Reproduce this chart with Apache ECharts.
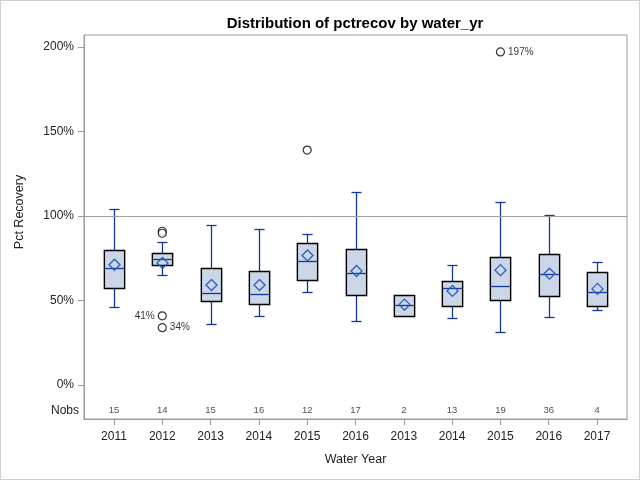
<!DOCTYPE html>
<html>
<head>
<meta charset="utf-8">
<script src="https://cdn.jsdelivr.net/npm/echarts@6/dist/echarts.min.js"></script>
<style>
html,body{margin:0;padding:0;background:#fff;}
#c{width:640px;height:480px;box-sizing:border-box;border:1px solid #d0d0d0;}
</style>
</head>
<body>
<div id="c"></div>
<script>
const categories = ['2011','2012','2013','2014','2015','2016','2013','2014','2015','2016','2017'];
const whiskerLow  = [46, 65, 36, 40.6, 55, 38, 41, 39.8, 31.6, 40.4, 44.5];
const q1          = [57.5, 71, 49.6, 48, 62.2, 53.4, 41, 46.9, 50.4, 52.8, 46.9];
const median      = [69.2, 74.5, 54.3, 53.9, 73.3, 66.3, 47.6, 57.5, 58.6, 65.7, 55.1];
const q3          = [79.8, 78.2, 69.2, 67.6, 83.9, 80.4, 53.4, 61.6, 75.5, 77.5, 66.9];
const whiskerHigh = [104, 84.5, 94.5, 92.5, 89.2, 114, 53.4, 71, 108, 100.4, 72.8];
const mean        = [71.2, 72.2, 59.2, 59.2, 76.7, 67.5, 47.6, 55.7, 68, 65.9, 56.9];
const nobs        = [15, 14, 15, 16, 12, 17, 2, 13, 19, 36, 4];
const outlierIdx   = [1, 1, 1, 1, 4, 8];
const outlierVal   = [91, 89.8, 41, 34, 139, 197];
const outlierLabel = ['', '', '41%', '34%', '', '197%'];
const outlierPos   = ['right', 'right', 'left', 'right', 'right', 'right'];
const yTicks = [0, 50, 100, 150, 200];
const nobsRowY = -15;
const refLine = 100;

const boxData = categories.map((c, i) => [i, whiskerLow[i], q1[i], median[i], q3[i], whiskerHigh[i], mean[i]]);
const outlierData = outlierIdx.map((ix, k) => ({
  value: [ix, outlierVal[k]],
  label: { show: outlierLabel[k] !== '', formatter: outlierLabel[k], position: outlierPos[k] }
}));
const nobsData = nobs.map((n, i) => ({ value: [i, nobsRowY], label: { formatter: String(n) } }));

const BLUE = '#12399a';
const DIAMOND = '#2a5cc0';

function renderBox(params, api) {
  const i = api.value(0);
  const x = Math.round(api.coord([i, 0])[0]) + 0.5;
  const hw = api.size([0.42, 0])[0] / 2;
  const cw = api.size([0.21, 0])[0] / 2;
  const y = v => Math.round(api.coord([i, api.value(v)])[1]) + 0.5;
  const yLo = y(1), yQ1 = y(2), yMed = y(3), yQ3 = y(4), yHi = y(5), yMean = api.coord([i, api.value(6)])[1];
  const lineStyle = { stroke: BLUE, lineWidth: 1.3 };
  const ch = [];
  if (yHi < yQ3) {
    ch.push({ type: 'line', shape: { x1: x, y1: yQ3, x2: x, y2: yHi }, style: lineStyle });
    ch.push({ type: 'line', shape: { x1: x - cw, y1: yHi, x2: x + cw, y2: yHi }, style: lineStyle });
  }
  if (yLo > yQ1) {
    ch.push({ type: 'line', shape: { x1: x, y1: yQ1, x2: x, y2: yLo }, style: lineStyle });
    ch.push({ type: 'line', shape: { x1: x - cw, y1: yLo, x2: x + cw, y2: yLo }, style: lineStyle });
  }
  ch.push({ type: 'rect', shape: { x: x - hw, y: yQ3, width: 2 * hw, height: yQ1 - yQ3 },
            style: { fill: '#cbd6e6', stroke: '#000', lineWidth: 1.4 } });
  ch.push({ type: 'line', shape: { x1: x - hw + 0.7, y1: yMed, x2: x + hw - 0.7, y2: yMed }, style: lineStyle });
  const d = 5.5;
  ch.push({ type: 'polygon', shape: { points: [[x, yMean - d], [x + d, yMean], [x, yMean + d], [x - d, yMean]] },
            style: { fill: 'none', stroke: DIAMOND, lineWidth: 1.3 } });
  return { type: 'group', children: ch };
}

const chart = echarts.init(document.getElementById('c'), null, { renderer: 'canvas' });
const FONT = '"Liberation Sans", Arial, sans-serif';
chart.setOption({
  animation: false,
  textStyle: { fontFamily: FONT },
  title: {
    text: 'Distribution of pctrecov by water_yr',
    left: 349, top: 10, textAlign: 'center',
    textStyle: { fontFamily: FONT, fontSize: 15, fontWeight: 'bold', color: '#000' }
  },
  grid: { left: 83, right: 12, top: 34, bottom: 60, show: true, borderColor: '#9a9a9a', borderWidth: 1 },
  xAxis: {
    type: 'value', min: -0.62, max: 10.62,
    splitLine: { show: false },
    axisLine: { show: true, onZero: false, lineStyle: { color: '#9a9a9a' } },
    axisTick: { show: true, inside: false, length: 6, lineStyle: { color: '#9a9a9a' }, customValues: categories.map((c, i) => i) },
    axisLabel: { customValues: categories.map((c, i) => i), formatter: v => categories[Math.round(v)] || '',
                 fontSize: 12, color: '#222', margin: 12, fontFamily: FONT },
    name: 'Water Year', nameLocation: 'middle', nameGap: 34,
    nameTextStyle: { fontSize: 12.5, color: '#222', fontFamily: FONT }
  },
  yAxis: {
    type: 'value', min: -20, max: 207,
    splitLine: { show: false },
    axisLine: { show: true, onZero: false, lineStyle: { color: '#9a9a9a' } },
    axisTick: { show: true, inside: false, length: 6, lineStyle: { color: '#9a9a9a' }, customValues: yTicks },
    axisLabel: { customValues: [nobsRowY].concat(yTicks),
                 formatter: v => v === nobsRowY ? '{n|Nobs}' : '{p|' + v + '%}',
                 rich: {
                   n: { fontSize: 12, color: '#222', fontFamily: FONT },
                   p: { fontSize: 12, color: '#222', fontFamily: FONT, padding: [0, 5, 0, 0] }
                 },
                 fontSize: 12, color: '#222', margin: 5, fontFamily: FONT },
    name: 'Pct Recovery', nameLocation: 'middle', nameGap: 58,
    nameTextStyle: { fontSize: 12.5, color: '#222', fontFamily: FONT, padding: [0, 0, 0, 30] }
  },
  series: [
    {
      type: 'custom', renderItem: renderBox, data: boxData, z: 3,
      encode: { x: 0, y: [1, 5] },
      markLine: {
        silent: true, symbol: 'none', label: { show: false },
        lineStyle: { color: '#a0a0a0', type: 'solid', width: 1 },
        data: [{ yAxis: refLine }]
      }
    },
    {
      type: 'scatter', data: outlierData, z: 4,
      symbol: 'circle', symbolSize: 8,
      itemStyle: { color: '#fff', borderColor: '#000', borderWidth: 1.2 },
      label: { color: '#000', fontSize: 10, distance: 3, fontFamily: FONT }
    },
    {
      type: 'scatter', data: nobsData, symbolSize: 0, z: 4,
      label: { show: true, position: 'inside', color: '#222', fontSize: 9.5, fontFamily: FONT }
    }
  ]
});
</script>
</body>
</html>
